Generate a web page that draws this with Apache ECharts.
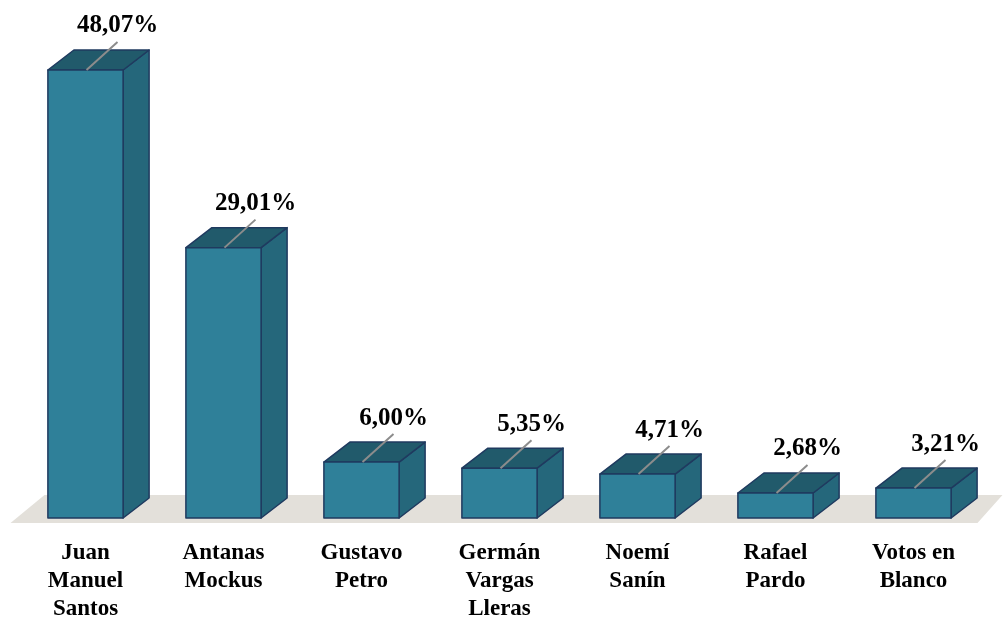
<!DOCTYPE html>
<html>
<head>
<meta charset="utf-8">
<script src="https://cdn.jsdelivr.net/npm/echarts@6/dist/echarts.min.js"></script>
<style>
  html, body { margin: 0; padding: 0; background: #fff; }
  #chart { width: 1003px; height: 618px; }
</style>
</head>
<body>
<div id="chart"></div>
<script>
// candidatos y porcentajes
const candidates = [
  'Juan\nManuel\nSantos',
  'Antanas\nMockus',
  'Gustavo\nPetro',
  'Germán\nVargas\nLleras',
  'Noemí\nSanín',
  'Rafael\nPardo',
  'Votos en\nBlanco'
]
const votes = [48.07, 29.01, 6.00, 5.35, 4.71, 2.68, 3.21]
const voteLabels = ['48,07%', '29,01%', '6,00%', '5,35%', '4,71%', '2,68%', '3,21%']

const DX = 26, DY = 20
const outline = '#1f3a5f'
const serif = '"Liberation Serif", "Times New Roman", serif'

const myChart = echarts.init(document.getElementById('chart'))

myChart.setOption({
  animation: false,
  grid: { left: 16.5, right: 20.5, top: 52, bottom: 100, outerBoundsMode: 'none', containLabel: false },
  xAxis: {
    type: 'category',
    data: candidates,
    axisLine: { show: false },
    axisTick: { show: false },
    axisLabel: {
      interval: 0,
      margin: 21,
      color: '#000',
      fontFamily: serif,
      fontWeight: 'bold',
      fontSize: 23,
      lineHeight: 28
    }
  },
  yAxis: {
    type: 'value',
    min: 0,
    max: 50,
    show: false,
    splitLine: { show: false }
  },
  series: [
    {
      // piso gris
      type: 'custom',
      data: [0],
      z: 1,
      renderItem: (params, api) => {
        const cs = params.coordSys
        const y0 = api.coord([0, 0])[1]
        return {
          type: 'polygon',
          shape: {
            points: [
              [cs.x - 6, y0 + 5],
              [cs.x + 28, y0 - 23],
              [cs.x + cs.width + 20, y0 - 23],
              [cs.x + cs.width - 5, y0 + 5]
            ]
          },
          style: { fill: '#e3e0da' }
        }
      }
    },
    {
      type: 'custom',
      data: votes.map((v, i) => [i, v]),
      z: 2,
      encode: { x: 0, y: 1 },
      renderItem: (params, api) => {
        const i = api.value(0)
        const top = api.coord([i, api.value(1)])
        const base = api.coord([i, 0])
        const w = api.size([1, 0])[0] * 0.545
        const x1 = top[0] - w / 2, x2 = top[0] + w / 2
        const yt = top[1], yb = base[1]
        const line = { stroke: outline, lineWidth: 1.5, lineJoin: 'round' }
        return {
          type: 'group',
          children: [
            {
              type: 'polygon',
              shape: { points: [[x2, yt], [x2 + DX, yt - DY], [x2 + DX, yb - DY], [x2, yb]] },
              style: { fill: '#25677b', ...line }
            },
            {
              type: 'polygon',
              shape: { points: [[x1, yt], [x1 + DX, yt - DY], [x2 + DX, yt - DY], [x2, yt]] },
              style: { fill: '#215a6b', ...line }
            },
            {
              type: 'rect',
              shape: { x: x1, y: yt, width: w, height: yb - yt },
              style: { fill: '#2f8099', ...line }
            },
            {
              type: 'line',
              shape: { x1: top[0] + 1, y1: yt, x2: top[0] + 32, y2: yt - 28 },
              style: { stroke: '#8c8c8c', lineWidth: 2 }
            },
            {
              type: 'text',
              style: {
                text: voteLabels[params.dataIndex],
                x: top[0] + 32,
                y: yt - 44,
                align: 'center',
                verticalAlign: 'middle',
                fill: '#000',
                font: 'bold 25px ' + serif
              }
            }
          ]
        }
      }
    }
  ]
})
</script>
</body>
</html>
